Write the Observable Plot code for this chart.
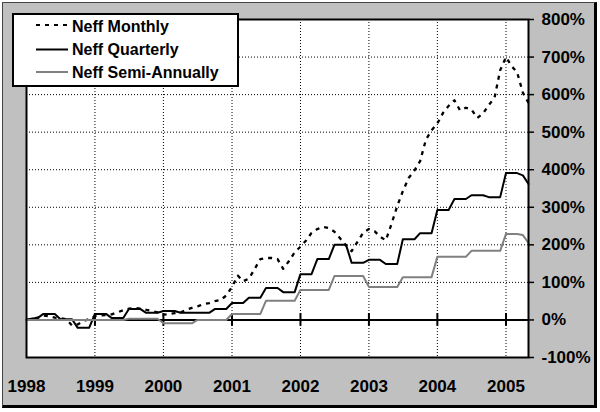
<!DOCTYPE html>
<html><head><meta charset="utf-8">
<script src="https://cdn.jsdelivr.net/npm/d3@7"></script>
<script src="https://cdn.jsdelivr.net/npm/@observablehq/plot@0.6"></script>
<style>
html,body{margin:0;padding:0;background:#fff;}
#wrap{position:relative;width:600px;height:412px;font-family:"Liberation Sans",Arial,sans-serif;}
#panel{position:absolute;left:2px;top:2px;width:591px;height:402px;background:#c0c0c0;border-left:1px solid #444;border-top:1px solid #444;border-right:3px solid #000;border-bottom:3px solid #000;}
#chart{position:absolute;left:0;top:0;}
#legend{position:absolute;left:12px;top:13px;width:223px;height:70px;background:#fff;border:2px solid #000;}
</style></head><body>
<div id="wrap"><div id="panel"></div><div id="chart"></div><div id="legend"></div></div>
<script>
// Series names
const seriesNames = ["Neff Monthly", "Neff Quarterly", "Neff Semi-Annually"];

// Monthly observations Jan 1998 .. May 2005 (percent)
const monthlyValues = [
  0, 3, 6, 12, 10, 6, 5, 2, -15, -12, -3, 2,
  10, 12, 13, 15, 20, 26, 30, 32, 30, 27, 24, 20,
  14, 16, 18, 20, 27, 32, 36, 42, 45, 50, 53, 65,
  88, 118, 103, 110, 135, 162, 165, 165, 162, 136, 157, 180,
  195, 212, 232, 242, 248, 245, 235, 217, 198, 183, 208, 232,
  242, 236, 222, 212, 255, 303, 343, 378, 398, 423, 480, 505,
  523, 552, 570, 585, 558, 565, 560, 538, 550, 572, 592, 665,
  700, 675, 660, 605, 578
];
const quarterlyValues = [
  0, 4, 5, 16, 16, 16, 2, 2, 2, -21, -21, -21,
  16, 16, 16, 5, 5, 5, 29, 29, 29, 19, 19, 19,
  24, 24, 24, 19, 19, 19, 19, 19, 19, 29, 29, 29,
  45, 45, 45, 59, 59, 59, 85, 85, 85, 74, 74, 74,
  122, 122, 122, 162, 162, 162, 200, 200, 200, 152, 152, 152,
  160, 160, 160, 149, 149, 149, 215, 215, 215, 231, 231, 231,
  293, 293, 293, 322, 322, 322, 332, 332, 332, 327, 327, 327,
  391, 391, 391, 385, 362
];
const semiAnnualValues = [
  0, 0, 0, 0, 0, 0, 0, 0, 0, 0, 0, 0,
  0, 0, 0, 0, 0, 0, 3, 3, 3, 3, 3, 3,
  -9, -9, -9, -9, -9, -9, 0, 0, 0, 0, 0, 0,
  16, 16, 16, 16, 16, 16, 51, 51, 51, 51, 51, 51,
  80, 80, 80, 80, 80, 80, 117, 117, 117, 117, 117, 117,
  88, 88, 88, 88, 88, 88, 114, 114, 114, 114, 114, 114,
  168, 168, 168, 168, 168, 168, 184, 184, 184, 184, 184, 184,
  229, 229, 229, 226, 205
];

// Axis ticks
const yearLabels = [1998, 1999, 2000, 2001, 2002, 2003, 2004, 2005];
const pctTicks = [-100, 0, 100, 200, 300, 400, 500, 600, 700, 800];
const pctGrid = [100, 200, 300, 400, 500, 600, 700];

const months = d3.utcMonth.range(new Date(Date.UTC(1998, 0, 1)), new Date(Date.UTC(2005, 5, 1)));
const data = months.map((date, i) => ({
  date,
  monthly: monthlyValues[i],
  quarterly: quarterlyValues[i],
  semi: semiAnnualValues[i]
}));
const yearDates = yearLabels.map(y => new Date(Date.UTC(y, 0, 1)));
const gridYears = yearDates.slice(1);

const chart = Plot.plot({
  width: 600, height: 412,
  marginLeft: 26, marginRight: 72, marginTop: 19, marginBottom: 55,
  style: {background: "transparent", fontFamily: "'Liberation Sans', Arial, sans-serif", overflow: "visible"},
  x: {type: "utc", domain: [new Date(Date.UTC(1998, 0, 1)), new Date(Date.UTC(2005, 4, 1))], axis: null},
  y: {domain: [-100, 800], axis: null},
  marks: [
    Plot.frame({fill: "white"}),
    Plot.ruleY(pctGrid, {stroke: "black", strokeWidth: 1, strokeDasharray: "1,2"}),
    Plot.ruleX(gridYears, {stroke: "black", strokeWidth: 1, strokeDasharray: "1,2"}),
    Plot.ruleY([0], {stroke: "black", strokeWidth: 2}),
    Plot.ruleX(gridYears, {y1: -17, y2: 17, stroke: "black", strokeWidth: 2}),
    Plot.line(data, {x: "date", y: "monthly", stroke: "black", strokeWidth: 2.3, strokeDasharray: "4,5", strokeLinecap: "butt"}),
    Plot.line(data, {x: "date", y: "quarterly", stroke: "black", strokeWidth: 2}),
    Plot.line(data, {x: "date", y: "semi", stroke: "#808080", strokeWidth: 2}),
    Plot.frame({stroke: "black", strokeWidth: 2}),
    Plot.axisX({ticks: yearDates, anchor: "bottom", tickSize: 0, tickPadding: 22,
      tickFormat: d => String(d.getUTCFullYear()), fontSize: 17, fontWeight: "bold"}),
    Plot.axisY({ticks: pctTicks, anchor: "right", tickSize: 5, tickPadding: 8, strokeWidth: 1.5,
      tickFormat: d => d + "%", fontSize: 17, fontWeight: "bold", textAnchor: "start"})
  ]
});
document.getElementById("chart").appendChild(chart);

// Legend
const ns = "http://www.w3.org/2000/svg";
const leg = document.createElementNS(ns, "svg");
leg.setAttribute("width", 223); leg.setAttribute("height", 70);
const styles = [
  {stroke: "black", dash: "4,5"},
  {stroke: "black", dash: null},
  {stroke: "#808080", dash: null}
];
const lineYs = [10, 34.5, 57];
const textYs = [17, 40, 63];
seriesNames.forEach((name, i) => {
  const l = document.createElementNS(ns, "line");
  l.setAttribute("x1", 22); l.setAttribute("x2", 54);
  l.setAttribute("y1", lineYs[i]); l.setAttribute("y2", lineYs[i]);
  l.setAttribute("stroke", styles[i].stroke); l.setAttribute("stroke-width", 2);
  if (styles[i].dash) l.setAttribute("stroke-dasharray", styles[i].dash);
  leg.appendChild(l);
  const t = document.createElementNS(ns, "text");
  t.setAttribute("x", 58); t.setAttribute("y", textYs[i]);
  t.setAttribute("font-size", 16); t.setAttribute("font-weight", "bold");
  t.setAttribute("font-family", "'Liberation Sans', Arial, sans-serif");
  t.textContent = name;
  leg.appendChild(t);
});
document.getElementById("legend").appendChild(leg);
</script>
</body></html>
